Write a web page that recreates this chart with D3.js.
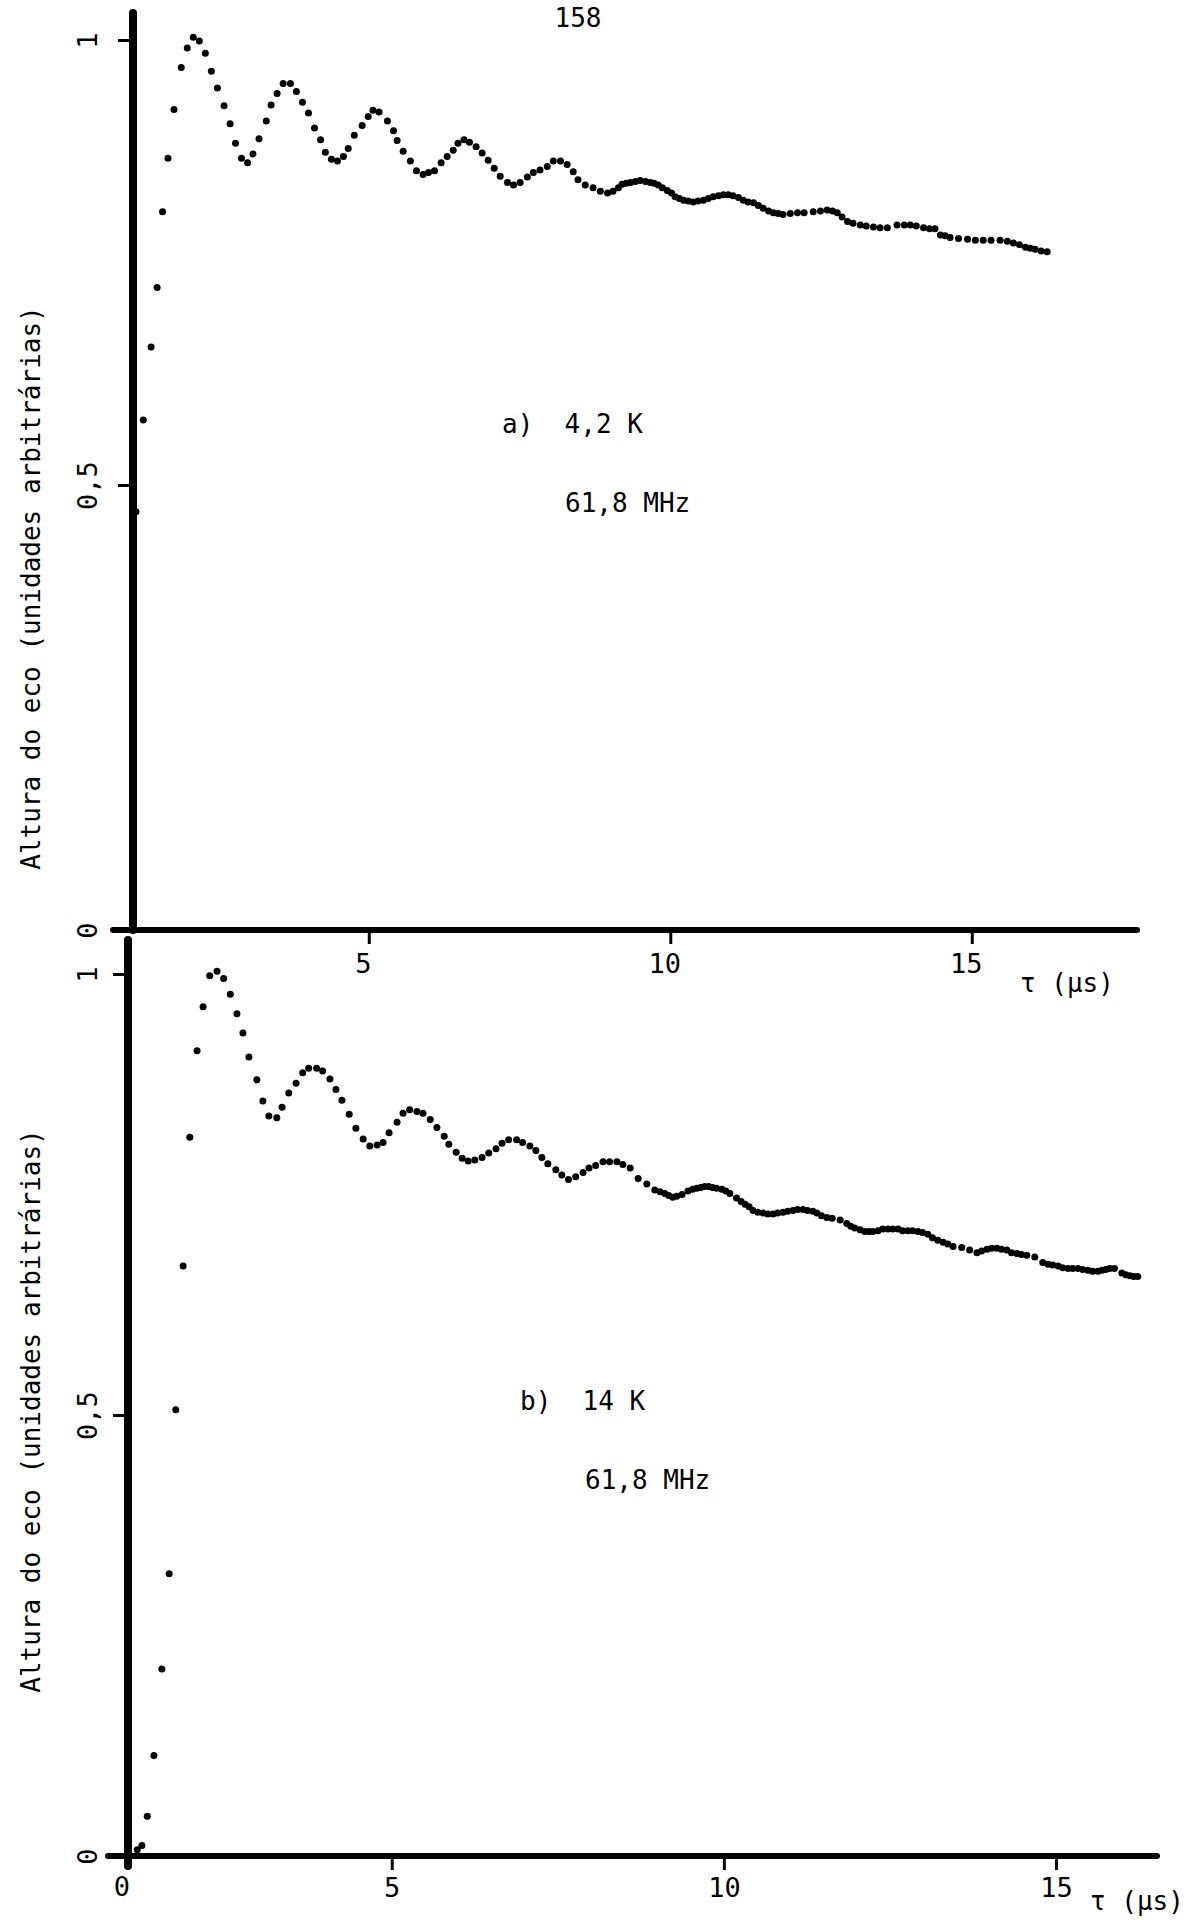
<!DOCTYPE html>
<html>
<head>
<meta charset="utf-8">
<script src="https://cdn.jsdelivr.net/npm/d3@7"></script>
<style>
  body { margin: 0; background: #fff; }
  svg { display: block; }
  text { font-family: "DejaVu Sans Mono", monospace; fill: #000; }
</style>
</head>
<body>
<div id="chart"></div>
<script>
// a) 4,2 K - tau (us) and echo height
const tauA = [1.14, 1.26, 1.39, 1.49, 1.58, 1.67, 1.77, 1.89, 1.99, 2.09, 2.19, 2.29, 2.39, 2.49, 2.60, 2.70, 2.79, 2.89, 2.99, 3.08,
  3.18, 3.30, 3.38, 3.48, 3.58, 3.70, 3.80, 3.90, 4.00, 4.10, 4.20, 4.28, 4.38, 4.48, 4.58, 4.66, 4.76, 4.89, 4.99, 5.07,
  5.17, 5.31, 5.41, 5.47, 5.57, 5.69, 5.79, 5.90, 5.99, 6.09, 6.20, 6.30, 6.40, 6.48, 6.58, 6.67, 6.78, 6.88, 6.98, 7.08,
  7.18, 7.30, 7.40, 7.51, 7.63, 7.73, 7.84, 7.96, 8.06, 8.18, 8.29, 8.39, 8.47, 8.59, 8.72, 8.84, 8.96, 9.05, 9.14, 9.20,
  9.27, 9.34, 9.42, 9.50, 9.59, 9.67, 9.73, 9.80, 9.87, 9.95, 10.02, 10.08, 10.15, 10.22, 10.30, 10.38, 10.46, 10.55, 10.63, 10.71,
  10.80, 10.88, 10.96, 11.04, 11.13, 11.21, 11.29, 11.38, 11.46, 11.54, 11.63, 11.71, 11.79, 11.87, 11.99, 12.11, 12.22, 12.37, 12.49, 12.60,
  12.69, 12.77, 12.85, 12.94, 13.03, 13.15, 13.25, 13.37, 13.48, 13.60, 13.76, 13.88, 13.98, 14.08, 14.20, 14.30, 14.39, 14.48, 14.56, 14.64,
  14.78, 14.93, 15.06, 15.19, 15.32, 15.47, 15.59, 15.69, 15.79, 15.89, 15.97, 16.05, 16.15, 16.25];
const ecoA = [0.470, 0.573, 0.655, 0.722, 0.807, 0.867, 0.922, 0.969, 0.991, 1.003, 0.999, 0.985, 0.965, 0.946, 0.926, 0.906, 0.884, 0.867, 0.862, 0.872,
  0.889, 0.909, 0.927, 0.940, 0.951, 0.951, 0.942, 0.930, 0.918, 0.901, 0.888, 0.874, 0.866, 0.864, 0.869, 0.878, 0.893, 0.904, 0.914, 0.921,
  0.919, 0.909, 0.898, 0.887, 0.875, 0.864, 0.853, 0.849, 0.851, 0.853, 0.862, 0.869, 0.876, 0.884, 0.888, 0.885, 0.880, 0.873, 0.865, 0.856,
  0.847, 0.840, 0.837, 0.840, 0.846, 0.851, 0.854, 0.858, 0.864, 0.864, 0.860, 0.852, 0.843, 0.837, 0.834, 0.830, 0.828, 0.830, 0.834, 0.838,
  0.839, 0.840, 0.841, 0.842, 0.841, 0.840, 0.839, 0.837, 0.834, 0.831, 0.828, 0.824, 0.822, 0.820, 0.819, 0.818, 0.819, 0.820, 0.822, 0.824,
  0.825, 0.826, 0.826, 0.825, 0.823, 0.820, 0.818, 0.817, 0.814, 0.811, 0.808, 0.806, 0.805, 0.804, 0.805, 0.806, 0.806, 0.807, 0.808, 0.809,
  0.808, 0.806, 0.801, 0.796, 0.794, 0.792, 0.791, 0.790, 0.789, 0.789, 0.792, 0.792, 0.792, 0.791, 0.789, 0.788, 0.788, 0.781, 0.780, 0.778,
  0.777, 0.776, 0.775, 0.775, 0.775, 0.775, 0.774, 0.772, 0.770, 0.767, 0.766, 0.765, 0.763, 0.762];

// b) 14 K
const tauB = [1.17, 1.24, 1.32, 1.42, 1.54, 1.65, 1.75, 1.86, 1.96, 2.07, 2.16, 2.26, 2.37, 2.47, 2.57, 2.67, 2.76, 2.85, 2.97, 3.06,
  3.15, 3.27, 3.35, 3.45, 3.56, 3.66, 3.75, 3.87, 3.96, 4.07, 4.16, 4.25, 4.36, 4.46, 4.57, 4.67, 4.78, 4.87, 4.96, 5.08,
  5.17, 5.27, 5.38, 5.47, 5.58, 5.68, 5.79, 5.86, 5.97, 6.06, 6.15, 6.25, 6.36, 6.46, 6.57, 6.66, 6.76, 6.88, 6.97, 7.08,
  7.17, 7.26, 7.35, 7.47, 7.56, 7.66, 7.77, 7.88, 7.97, 8.07, 8.18, 8.28, 8.39, 8.48, 8.59, 8.71, 8.84, 8.96, 9.04, 9.11,
  9.17, 9.23, 9.29, 9.37, 9.46, 9.53, 9.59, 9.65, 9.71, 9.77, 9.83, 9.89, 9.97, 10.03, 10.09, 10.19, 10.26, 10.32, 10.38, 10.44,
  10.51, 10.59, 10.66, 10.74, 10.81, 10.89, 10.96, 11.04, 11.11, 11.19, 11.26, 11.34, 11.40, 11.47, 11.55, 11.63, 11.75, 11.85, 11.91, 11.97,
  12.05, 12.12, 12.18, 12.24, 12.32, 12.39, 12.47, 12.54, 12.62, 12.69, 12.77, 12.84, 12.92, 12.99, 13.07, 13.14, 13.22, 13.30, 13.37, 13.45,
  13.58, 13.70, 13.81, 13.88, 13.96, 14.03, 14.11, 14.18, 14.26, 14.33, 14.41, 14.48, 14.56, 14.68, 14.80, 14.88, 14.95, 15.03, 15.10, 15.18,
  15.25, 15.33, 15.40, 15.48, 15.55, 15.63, 15.69, 15.75, 15.81, 15.88, 15.99, 16.05, 16.11, 16.17, 16.23];
const ecoB = [0.007, 0.012, 0.045, 0.114, 0.212, 0.320, 0.506, 0.669, 0.815, 0.913, 0.963, 0.998, 1.003, 0.995, 0.977, 0.955, 0.933, 0.906, 0.880, 0.856,
  0.839, 0.837, 0.849, 0.865, 0.876, 0.888, 0.893, 0.893, 0.890, 0.881, 0.869, 0.857, 0.841, 0.825, 0.813, 0.805, 0.806, 0.809, 0.820, 0.832,
  0.842, 0.846, 0.844, 0.842, 0.835, 0.826, 0.816, 0.807, 0.798, 0.791, 0.788, 0.789, 0.792, 0.797, 0.802, 0.808, 0.812, 0.812, 0.809, 0.805,
  0.800, 0.792, 0.785, 0.778, 0.772, 0.767, 0.770, 0.775, 0.780, 0.783, 0.787, 0.787, 0.787, 0.784, 0.780, 0.768, 0.762, 0.755, 0.753, 0.751,
  0.749, 0.747, 0.748, 0.750, 0.754, 0.756, 0.757, 0.758, 0.759, 0.759, 0.758, 0.757, 0.756, 0.754, 0.751, 0.746, 0.742, 0.739, 0.736, 0.732,
  0.730, 0.729, 0.728, 0.728, 0.729, 0.730, 0.731, 0.732, 0.733, 0.733, 0.732, 0.731, 0.729, 0.726, 0.724, 0.723, 0.721, 0.717, 0.714, 0.712,
  0.710, 0.708, 0.708, 0.708, 0.709, 0.711, 0.711, 0.711, 0.711, 0.709, 0.709, 0.709, 0.708, 0.707, 0.705, 0.701, 0.698, 0.696, 0.694, 0.691,
  0.690, 0.687, 0.684, 0.686, 0.688, 0.689, 0.689, 0.688, 0.687, 0.684, 0.683, 0.682, 0.681, 0.679, 0.673, 0.671, 0.670, 0.669, 0.667, 0.666,
  0.666, 0.666, 0.665, 0.664, 0.663, 0.663, 0.664, 0.665, 0.666, 0.666, 0.661, 0.659, 0.658, 0.657, 0.657];

const xTicks = [5, 10, 15];
const yTicks = [0, 0.5, 1];
const yTickLabels = ["0", "0,5", "1"];
const originLabel = "0";
const yLabel = "Altura do eco (unidades arbitrárias)";
const xLabel = "τ (μs)";
const titlesA = ["a)  4,2 K", "61,8 MHz"];
const titlesB = ["b)  14 K", "61,8 MHz"];
const pageNumber = "158";

const width = 1189, height = 1920;

const svg = d3.select("#chart").append("svg")
  .attr("width", width)
  .attr("height", height);

// panel layout (pixel boxes), measured from the scanned page
const panels = [
  { tau: tauA, eco: ecoA, titles: titlesA, tauMin: 1.09, tauMax: 17.74,
    left: 133, right: 1137, top: 40, bottom: 930, axisTop: 13, axisBottom: 930,
    labelDx: -6, labelBase: 972, origin: false,
    title: [502, 433, 565, 512], xLab: [1020, 992], yLabY: 588 },
  { tau: tauB, eco: ecoB, titles: titlesB, tauMin: 1.03, tauMax: 16.52,
    left: 128, right: 1157, top: 974, bottom: 1856, axisTop: 940, axisBottom: 1866,
    labelDx: 0, labelBase: 1896, origin: true,
    title: [520, 1410, 585, 1489], xLab: [1090, 1910], yLabY: 1411 }
];

panels.forEach(p => {
  const x = d3.scaleLinear().domain([p.tauMin, p.tauMax]).range([p.left, p.right]);
  const y = d3.scaleLinear().domain([0, 1]).range([p.bottom, p.top]);

  const g = svg.append("g");

  // x axis ticks + labels
  const xAxis = d3.axisBottom(x)
    .tickValues(xTicks)
    .tickSize(14)
    .tickSizeOuter(0)
    .tickPadding(p.labelBase - p.bottom - 14 - 18.5)
    .tickFormat(d => d);
  const gx = g.append("g")
    .attr("transform", `translate(0,${p.bottom})`)
    .call(xAxis);
  gx.select(".domain").remove();
  gx.selectAll(".tick line").attr("stroke", "#000").attr("stroke-width", 3);
  gx.selectAll(".tick text")
    .attr("dx", p.labelDx)
    .style("font-size", "27px")
    .style("font-family", "'DejaVu Sans Mono', monospace");

  // y axis ticks + rotated labels
  const yAxis = d3.axisLeft(y)
    .tickValues(yTicks)
    .tickSize(15)
    .tickSizeOuter(0)
    .tickFormat((d, i) => yTickLabels[i]);
  const gy = g.append("g")
    .attr("transform", `translate(${p.left},0)`)
    .call(yAxis);
  gy.select(".domain").remove();
  gy.selectAll(".tick line").attr("stroke", "#000").attr("stroke-width", 3);
  gy.selectAll(".tick text")
    .attr("x", null)
    .attr("dy", "0.35em")
    .attr("text-anchor", "middle")
    .attr("transform", `translate(${88 - p.left},0) rotate(-90)`)
    .style("font-size", "27px")
    .style("font-family", "'DejaVu Sans Mono', monospace");

  // heavy axis lines
  g.append("line")
    .attr("x1", p.left - 20).attr("x2", p.right)
    .attr("y1", p.bottom).attr("y2", p.bottom)
    .attr("stroke", "#000").attr("stroke-width", 6)
    .attr("stroke-linecap", "round");
  g.append("line")
    .attr("x1", p.left).attr("x2", p.left)
    .attr("y1", p.axisTop).attr("y2", p.axisBottom)
    .attr("stroke", "#000").attr("stroke-width", 8)
    .attr("stroke-linecap", "round");

  if (p.origin) {
    g.append("text")
      .attr("x", p.left - 6).attr("y", p.labelBase)
      .attr("text-anchor", "middle")
      .style("font-size", "27px")
      .text(originLabel);
  }

  // data points
  g.selectAll("circle")
    .data(p.tau.map((t, i) => [t, p.eco[i]]))
    .enter()
    .append("circle")
    .attr("cx", d => x(d[0]))
    .attr("cy", d => y(d[1]))
    .attr("r", 3.5)
    .attr("fill", "#000");

  // labels
  g.append("text")
    .attr("transform", `translate(31,${p.yLabY}) rotate(-90)`)
    .attr("text-anchor", "middle")
    .attr("dy", "0.35em")
    .style("font-size", "26px")
    .text(yLabel);

  g.append("text")
    .attr("x", p.xLab[0]).attr("y", p.xLab[1])
    .style("font-size", "26px")
    .text(xLabel);

  g.append("text")
    .attr("x", p.title[0]).attr("y", p.title[1])
    .style("font-size", "26px")
    .attr("xml:space", "preserve")
    .style("white-space", "pre")
    .text(p.titles[0]);
  g.append("text")
    .attr("x", p.title[2]).attr("y", p.title[3])
    .style("font-size", "26px")
    .text(p.titles[1]);
});

// page number, kept just inside the top edge
svg.append("text")
  .attr("x", 578).attr("y", 27)
  .attr("text-anchor", "middle")
  .style("font-size", "26px")
  .text(pageNumber);
</script>
</body>
</html>
